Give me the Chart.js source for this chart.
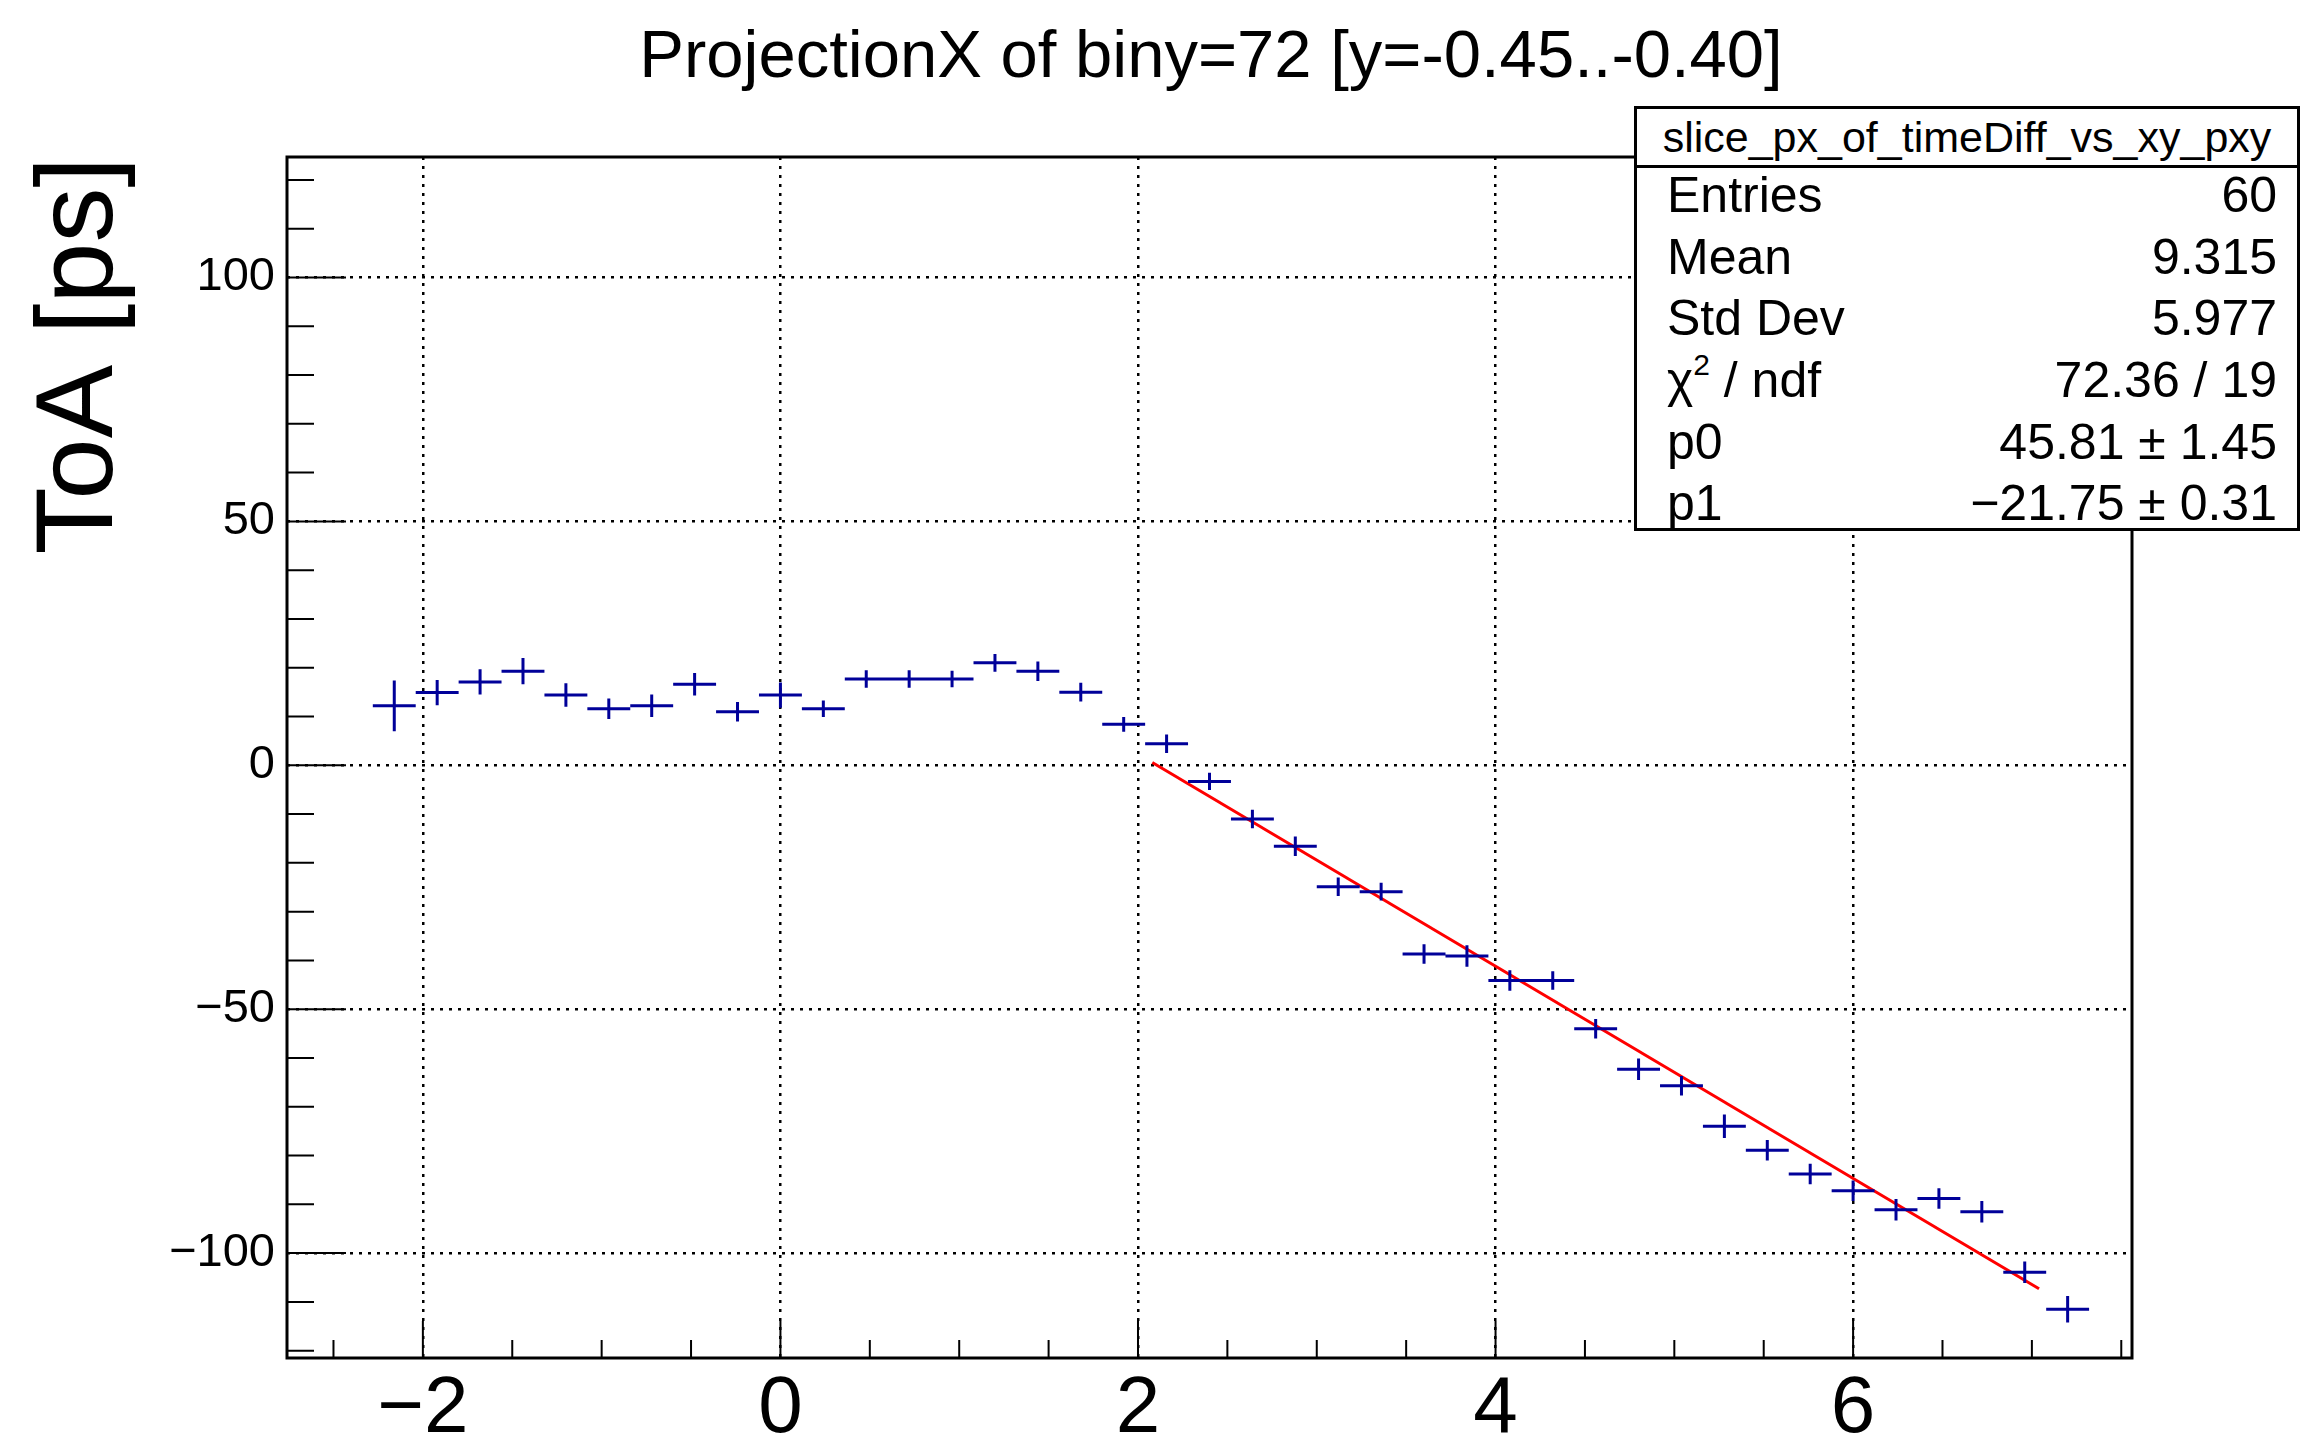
<!DOCTYPE html>
<html>
<head>
<meta charset="utf-8">
<title>ProjectionX of biny=72</title>
<script src="https://cdn.jsdelivr.net/npm/chart.js@4.4.1/dist/chart.umd.min.js"></script>
<style>
  html, body { margin: 0; padding: 0; background: #fff; overflow: hidden; }
  #wrap { position: relative; width: 2301px; height: 1441px; font-family: "Liberation Sans", Arial, sans-serif; color: #000; }
  #plot { position: absolute; left: 0; top: 0; }
  #title { position: absolute; left: 1211px; top: 20px; transform: translateX(-50%); font-size: 67px; line-height: 67px; white-space: nowrap; }
  #stats { position: absolute; left: 1634px; top: 106px; width: 666px; height: 425px; box-sizing: border-box; border: 3px solid #000; background: #fff; }
  #stats .head { height: 56px; line-height: 56px; font-size: 43px; text-align: center; border-bottom: 3px solid #000; white-space: nowrap; }
  #stats .rows { margin-top: -3px; }
  #stats .row { display: flex; justify-content: space-between; height: 61.7px; line-height: 61.7px; font-size: 50px; padding: 0 20px 0 30px; white-space: nowrap; }
  #stats sup { font-size: 30px; line-height: 0; vertical-align: 22px; }
</style>
</head>
<body>
<div id="wrap">
  <canvas id="plot" width="2301" height="1441"></canvas>
  <div id="title">ProjectionX of biny=72 [y=-0.45..-0.40]</div>
  <div id="stats"></div>
</div>
<script>
const binCenters = [-2.16, -1.92, -1.68, -1.44, -1.20, -0.96, -0.72, -0.48, -0.24, 0.00,
                    0.24, 0.48, 0.72, 0.96, 1.20, 1.44, 1.68, 1.92, 2.16, 2.40,
                    2.64, 2.88, 3.12, 3.36, 3.60, 3.84, 4.08, 4.32, 4.56, 4.80,
                    5.04, 5.28, 5.52, 5.76, 6.00, 6.24, 6.48, 6.72, 6.96, 7.20];
const binWidth = 0.24;
const toaValues = [12.2, 14.9, 17.1, 19.3, 14.4, 11.6, 12.2, 16.6, 11.0, 14.4,
                   11.6, 17.7, 17.7, 17.7, 21.0, 19.3, 15.0, 8.4, 4.4, -3.3,
                   -11.0, -16.6, -24.9, -25.9, -38.7, -39.1, -44.1, -44.1, -54.0, -62.3,
                   -65.7, -74.0, -78.9, -83.8, -87.2, -91.1, -88.8, -91.5, -103.9, -111.5];
const toaErrors = [5.2, 2.6, 2.6, 2.7, 2.4, 2.1, 2.3, 2.3, 2.0, 2.6,
                   1.7, 1.8, 1.8, 1.7, 1.8, 2.0, 1.9, 1.5, 1.9, 1.75,
                   1.9, 2.0, 1.9, 1.8, 2.0, 2.2, 2.1, 1.9, 2.0, 2.2,
                   2.0, 2.4, 2.1, 2.1, 2.1, 2.2, 2.1, 2.2, 2.2, 2.7];

// Recta del ajuste (pol1) en su rango
const fitX = [2.08, 7.04];
const fitY = [0.57, -107.3];

// Ejes
const xRange = [-2.76, 7.56];
const yRange = [-121.5, 124.7];
const xTickValues = [-2, 0, 2, 4, 6];
const xMinorTicks = [-2.5, -1.5, -1, -0.5, 0.5, 1, 1.5, 2.5, 3, 3.5, 4.5, 5, 5.5, 6.5, 7, 7.5];
const yTickValues = [-100, -50, 0, 50, 100];
const yMinorTicks = [-120, -110, -90, -80, -70, -60, -40, -30, -20, -10,
                     10, 20, 30, 40, 60, 70, 80, 90, 110, 120];

// Caja de estadisticas
const statsTitle = 'slice_px_of_timeDiff_vs_xy_pxy';
const statNames = ['Entries', 'Mean', 'Std Dev', 'χ<sup>2</sup> / ndf', 'p0', 'p1'];
const statValues = ['60', '9.315', '5.977', '72.36 / 19', '45.81 ± 1.45', '\u221221.75 ± 0.31'];

// Armar la caja de estadisticas
const statsEl = document.getElementById('stats');
let html = '<div class="head">' + statsTitle + '</div><div class="rows">';
statNames.forEach((name, i) => {
    html += '<div class="row"><span>' + name + '</span><span>' + statValues[i] + '</span></div>';
});
html += '</div>';
statsEl.innerHTML = html;

// Barras de error como segmentos (null corta la linea)
const hBars = [];
const vBars = [];
binCenters.forEach((x, i) => {
    const y = toaValues[i];
    const e = toaErrors[i];
    hBars.push({x: x - binWidth / 2, y: y}, {x: x + binWidth / 2, y: y}, {x: x, y: null});
    vBars.push({x: x, y: y - e}, {x: x, y: y + e}, {x: x, y: null});
});
const fitLine = fitX.map((x, i) => ({x: x, y: fitY[i]}));

const minus = v => (v < 0 ? '\u2212' + Math.abs(v) : String(v));
const fontFamily = '"Liberation Sans", Arial, sans-serif';
Chart.defaults.font.family = fontFamily;
Chart.defaults.color = '#000';

// Marco y ticks hacia adentro, estilo ROOT
const frameTicks = {
    id: 'frameTicks',
    afterDatasetsDraw(chart) {
        const {ctx, chartArea: a, scales: {x, y}} = chart;
        ctx.save();
        ctx.strokeStyle = '#000';
        ctx.lineWidth = 2;
        ctx.beginPath();
        xMinorTicks.forEach(v => {
            const px = x.getPixelForValue(v);
            ctx.moveTo(px, a.bottom); ctx.lineTo(px, a.bottom - 18);
        });
        xTickValues.forEach(v => {
            const px = x.getPixelForValue(v);
            ctx.moveTo(px, a.bottom); ctx.lineTo(px, a.bottom - 37);
        });
        yMinorTicks.forEach(v => {
            const py = y.getPixelForValue(v);
            ctx.moveTo(a.left, py); ctx.lineTo(a.left + 27, py);
        });
        yTickValues.forEach(v => {
            const py = y.getPixelForValue(v);
            ctx.moveTo(a.left, py); ctx.lineTo(a.left + 59, py);
        });
        ctx.stroke();
        ctx.lineWidth = 3;
        ctx.strokeRect(a.left, a.top, a.right - a.left, a.bottom - a.top);
        ctx.restore();
    }
};

new Chart(document.getElementById('plot'), {
    type: 'scatter',
    data: {
        datasets: [
            {data: hBars, showLine: true, borderColor: '#000099', borderWidth: 3, pointRadius: 0, spanGaps: false},
            {data: vBars, showLine: true, borderColor: '#000099', borderWidth: 3, pointRadius: 0, spanGaps: false},
            {data: fitLine, showLine: true, borderColor: '#ff0000', borderWidth: 3, pointRadius: 0}
        ]
    },
    options: {
        responsive: false,
        animation: false,
        devicePixelRatio: 1,
        layout: {padding: {top: 157, right: 169, bottom: 0, left: 0}},
        plugins: {
            legend: {display: false},
            tooltip: {enabled: false},
            title: {display: false}
        },
        scales: {
            x: {
                type: 'linear',
                min: xRange[0],
                max: xRange[1],
                afterBuildTicks: s => { s.ticks = xTickValues.map(v => ({value: v})); },
                afterFit: s => { s.height = 83; },
                ticks: {padding: 4, font: {size: 80}, color: '#000', maxRotation: 0, autoSkip: false, callback: minus},
                grid: {color: '#000', lineWidth: 2.5, drawTicks: false},
                border: {display: false, dash: [3, 6]}
            },
            y: {
                type: 'linear',
                min: yRange[0],
                max: yRange[1],
                afterBuildTicks: s => { s.ticks = yTickValues.map(v => ({value: v})); },
                afterFit: s => { s.width = 287; },
                ticks: {padding: 12, font: {size: 47}, color: '#000', autoSkip: false, callback: minus},
                grid: {color: '#000', lineWidth: 2.5, drawTicks: false},
                border: {display: false, dash: [3, 6]},
                title: {display: true, text: 'ToA [ps]', align: 'end', color: '#000', font: {size: 110}, padding: {top: 16, bottom: 0}}
            }
        }
    },
    plugins: [frameTicks]
});
</script>
</body>
</html>
